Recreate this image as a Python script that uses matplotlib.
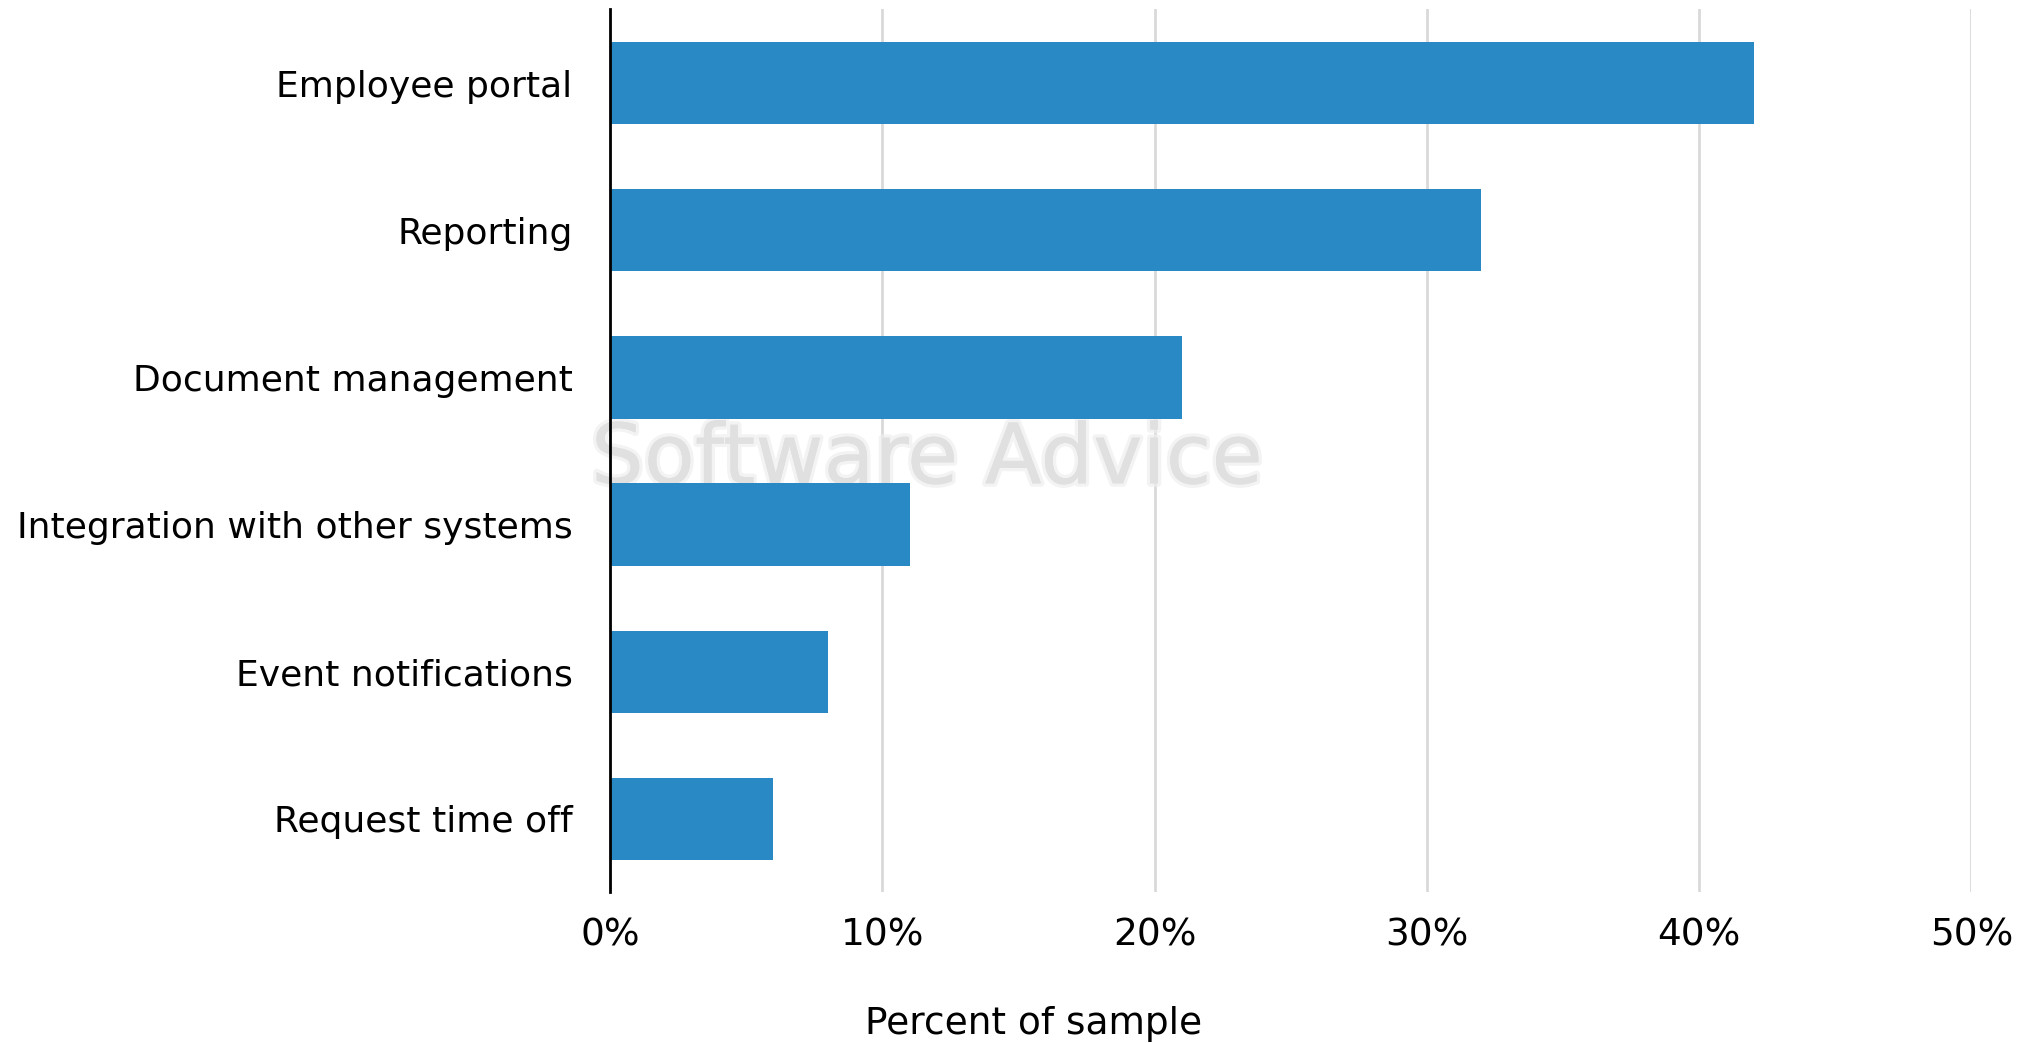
import matplotlib
matplotlib.use("Agg")
import matplotlib.pyplot as plt
import matplotlib.patheffects as pe
from matplotlib.ticker import FuncFormatter

# Share of respondents naming each feature
features = [
    "Employee portal",
    "Reporting",
    "Document management",
    "Integration with other systems",
    "Event notifications",
    "Request time off",
]
percent = [42, 32, 21, 11, 8, 6]
x_ticks = [0, 10, 20, 30, 40, 50]

BAR_COLOR = "#2989c5"
GRID_COLOR = "#d9d9d9"

plt.rcParams["font.family"] = ["DejaVu Sans"]

fig = plt.figure(figsize=(20.32, 10.43), dpi=100)
ax = fig.add_axes([0.3002, 0.1443, 0.670, 0.8466])

ypos = list(range(len(features)))
ax.barh(ypos, percent, height=0.56, color=BAR_COLOR, zorder=3)

ax.set_ylim(len(features) - 0.5, -0.5)
ax.set_xlim(0, 50)
ax.set_yticks(ypos)
ax.set_yticklabels(features, fontsize=26)
ax.set_xticks(x_ticks)
ax.xaxis.set_major_formatter(FuncFormatter(lambda v, _: f"{v:.0f}%"))
ax.tick_params(axis="x", labelsize=27, length=0, pad=18)
ax.tick_params(axis="y", length=0, pad=27)

ax.grid(axis="x", color=GRID_COLOR, linewidth=2, zorder=0)
ax.set_axisbelow(True)
for side in ("top", "right", "bottom"):
    ax.spines[side].set_visible(False)
ax.spines["left"].set_color("black")
ax.spines["left"].set_linewidth(2)
ax.spines["left"].set_zorder(4)

ax.set_xlabel("Percent of sample", fontsize=27)
ax.xaxis.set_label_coords(0.311, -0.149)
ax.xaxis.label.set_verticalalignment("center")

# Faint, soft brand watermark behind the bars
ax.text(0.233, 0.49, "Software Advice", transform=ax.transAxes,
        ha="center", va="center", fontsize=60, color="#e0e0e0",
        zorder=2,
        path_effects=[pe.withStroke(linewidth=5, foreground="#efefef", alpha=0.7),
                      pe.Normal()])

fig.savefig("out.png", dpi=100, facecolor="white")
